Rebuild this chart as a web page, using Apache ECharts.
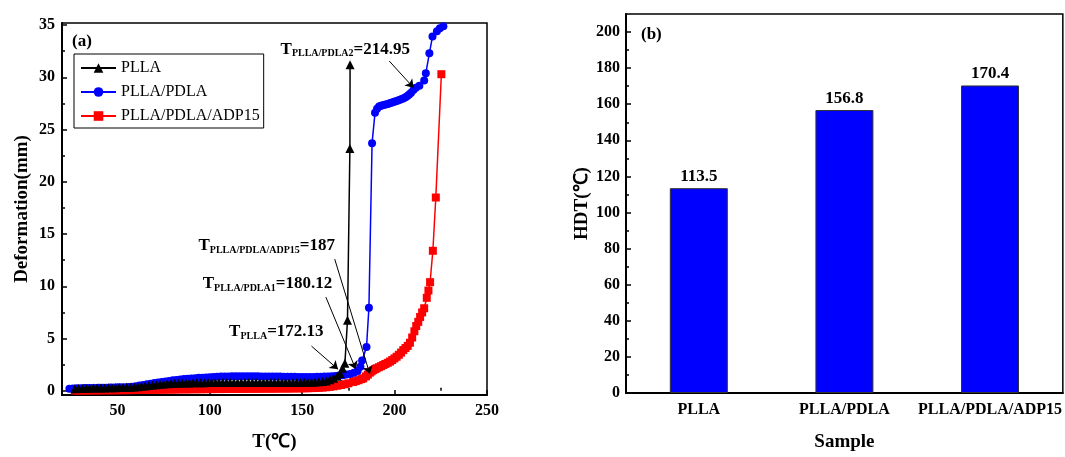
<!DOCTYPE html>
<html>
<head>
<meta charset="utf-8">
<script src="https://cdn.jsdelivr.net/npm/echarts@6/dist/echarts.min.js"></script>
<style>html,body{margin:0;padding:0;background:#fff}#c{width:1065px;height:457px}</style>
</head>
<body>
<div id="c"></div>
<script>
// ---------- data (a) ----------
const seriesNames = ['PLLA', 'PLLA/PDLA', 'PLLA/PDLA/ADP15'];
const pllaData = [
 [27,0.20],[29,0.22],[31,0.23],[33,0.24],[35,0.25],[37,0.26],[39,0.27],[41,0.27],[43,0.28],[45,0.29],
 [47,0.30],[49,0.30],[51,0.31],[53,0.32],[55,0.33],[57,0.35],[59,0.37],[61,0.40],[63,0.43],[65,0.47],
 [67,0.51],[69,0.55],[71,0.59],[73,0.62],[75,0.65],[77,0.68],[79,0.70],[81,0.72],[83,0.73],[85,0.74],
 [87,0.75],[89,0.76],[91,0.77],[93,0.77],[95,0.78],[97,0.78],[99,0.79],[101,0.79],[103,0.80],[105,0.80],
 [107,0.80],[109,0.80],[111,0.80],[113,0.80],[115,0.80],[117,0.80],[119,0.79],[121,0.79],[123,0.79],[125,0.79],
 [127,0.79],[129,0.79],[131,0.79],[133,0.79],[135,0.79],[137,0.79],[139,0.79],[141,0.79],[143,0.80],[145,0.80],
 [147,0.80],[149,0.80],[151,0.81],[153,0.82],[155,0.83],[157,0.84],[159,0.86],[161,0.90],[163,0.95],[165,1.05],
 [167,1.20],[169,1.40],[170.5,1.65],[171.8,2.16],[173.1,2.63],[174.5,6.75],[175.8,23.2],[175.9,31.2]
];
const pdlaData = [
 [24,0.20],[26,0.22],[28,0.24],[30,0.25],[32,0.26],[34,0.27],[36,0.28],[38,0.28],[40,0.29],[42,0.30],
 [44,0.30],[46,0.31],[48,0.32],[50,0.33],[52,0.34],[54,0.35],[56,0.37],[58,0.40],[60,0.44],[62,0.50],
 [64,0.56],[66,0.62],[68,0.68],[70,0.74],[72,0.80],[74,0.85],[76,0.90],[78,0.95],[80,1.00],[82,1.04],
 [84,1.08],[86,1.12],[88,1.15],[90,1.18],[92,1.21],[94,1.24],[96,1.26],[98,1.28],[100,1.30],[102,1.32],
 [104,1.34],[106,1.36],[108,1.37],[110,1.38],[112,1.39],[114,1.40],[116,1.40],[118,1.40],[120,1.40],[122,1.40],
 [124,1.39],[126,1.39],[128,1.38],[130,1.38],[132,1.37],[134,1.37],[136,1.36],[138,1.36],[140,1.35],[142,1.35],
 [144,1.34],[146,1.34],[148,1.33],[150,1.33],[152,1.33],[154,1.33],[156,1.33],[158,1.34],[160,1.35],[162,1.36],
 [164,1.38],[166,1.40],[168,1.43],[170,1.46],[172,1.50],[174,1.55],[176,1.62],[178,1.72],[180,1.90],[181.5,2.30],
 [182.4,2.90],[184.8,4.20],[186.1,7.96],[187.8,23.7],[189.4,26.6],[190.5,27.0],[191.6,27.2],[192.6,27.27],[193.6,27.33],[194.6,27.38],
 [195.7,27.42],[196.7,27.48],[197.7,27.54],[198.7,27.6],[199.7,27.66],[200.7,27.72],[201.8,27.78],[202.9,27.85],[203.9,27.92],[204.9,28.0],
 [205.9,28.1],[206.9,28.22],[207.9,28.36],[208.9,28.52],[210.2,28.8],[211.5,29.0],[213.4,29.2],[216.0,29.7],[216.9,30.4],[218.8,32.3],
 [220.5,33.9],[222.9,34.4],[224.5,34.7],[226.4,34.9]
];
const adpData = [
 [27,0.02],[29,0.02],[31,0.03],[33,0.03],[35,0.03],[37,0.04],[39,0.04],[41,0.04],[43,0.05],[45,0.05],
 [47,0.05],[49,0.05],[51,0.06],[53,0.06],[55,0.06],[57,0.07],[59,0.07],[61,0.08],[63,0.08],[65,0.09],
 [67,0.09],[69,0.10],[71,0.10],[73,0.11],[75,0.11],[77,0.12],[79,0.12],[81,0.13],[83,0.13],[85,0.14],
 [87,0.14],[89,0.14],[91,0.15],[93,0.15],[95,0.15],[97,0.16],[99,0.16],[101,0.16],[103,0.17],[105,0.17],
 [107,0.17],[109,0.18],[111,0.18],[113,0.18],[115,0.19],[117,0.19],[119,0.19],[121,0.20],[123,0.20],[125,0.20],
 [127,0.20],[129,0.21],[131,0.21],[133,0.21],[135,0.21],[137,0.22],[139,0.22],[141,0.22],[143,0.22],[145,0.23],
 [147,0.23],[149,0.24],[151,0.24],[153,0.25],[155,0.26],[157,0.27],[159,0.29],[161,0.31],[163,0.34],[165,0.38],
 [167,0.43],[169,0.49],[171,0.56],[173,0.63],[175,0.72],[177.6,0.85],[179,0.93],[180.5,1.02],[182,1.12],[183,1.20],
 [184.5,1.38],[185.5,1.55],[186.6,1.74],[187.5,1.86],[188.5,1.98],[189.5,2.08],[190.3,2.16],[191.5,2.26],[192.7,2.36],[193.9,2.47],
 [195,2.57],[196.3,2.68],[197.5,2.80],[198.7,2.94],[199.9,3.10],[201.1,3.26],[202.3,3.45],[203.5,3.66],[204.7,3.90],[205.9,4.10],
 [207.1,4.30],[208.3,4.60],[209.5,5.10],[210.7,5.70],[211.7,6.20],[212.8,6.60],[213.8,7.07],[214.9,7.50],[216,7.90],[217.4,8.90],
 [218.3,9.60],[219.2,10.4],[220.7,13.4],[222.3,18.5],[225.3,30.3]
];
const xTicksA = [50, 100, 150, 200, 250];
const xMinorA = [25, 75, 125, 175, 225];
const yTicksA = [0, 5, 10, 15, 20, 25, 30, 35];
const yMinorA = [2.5, 7.5, 12.5, 17.5, 22.5, 27.5, 32.5];
// annotations: [subscript, value]
const annoTexts = [['PLLA','172.13'], ['PLLA/PDLA1','180.12'], ['PLLA/PDLA/ADP15','187'], ['PLLA/PDLA2','214.95']];
const annoAt = [[136.0,5.64],[131.2,10.25],[130.8,13.9],[173.3,32.7]];
const arrowFrom = [[155.0,4.28],[162.8,8.97],[167.6,12.6],[197.1,31.56]];
const arrowTo = [[169.4,2.06],[179.0,2.06],[186.6,1.6],[210.3,29.0]];

// ---------- data (b) ----------
const samples = ['PLLA', 'PLLA/PDLA', 'PLLA/PDLA/ADP15'];
const hdt = [113.5, 156.8, 170.4];
const yTicksB = [0, 20, 40, 60, 80, 100, 120, 140, 160, 180, 200];
const yMinorB = [10, 30, 50, 70, 90, 110, 130, 150, 170, 190];

const FONT = "'Times New Roman','Liberation Serif',serif";
const chart = echarts.init(document.getElementById('c'), null, {renderer: 'canvas'});

function lineSeries(name, data, color, symbol, size, z) {
  return {
    name, type: 'line', data, xAxisIndex: 0, yAxisIndex: 0, z,
    symbol, symbolSize: size, showAllSymbol: true,
    lineStyle: {color, width: 1.5}, itemStyle: {color},
    animation: false
  };
}

const blackSeries = lineSeries('PLLA', pllaData, '#000000', 'triangle', 9, 5);
blackSeries.markLine = {
  silent: true, symbol: ['none', 'arrow'], symbolSize: 8,
  lineStyle: {color: '#000', width: 1, type: 'solid'},
  label: {show: false},
  data: arrowFrom.map((f, i) => [{coord: f}, {coord: arrowTo[i]}])
};
blackSeries.markPoint = {
  silent: true, symbol: 'circle', symbolSize: 1, itemStyle: {color: 'rgba(0,0,0,0)'},
  label: {
    show: true, position: 'inside', color: '#000',
    formatter: p => '{t|T}{s|' + annoTexts[p.dataIndex][0] + '}{t|=' + annoTexts[p.dataIndex][1] + '}',
    rich: {
      t: {fontFamily: FONT, fontWeight: 'bold', fontSize: 17, color: '#000', lineHeight: 19},
      s: {fontFamily: FONT, fontWeight: 'bold', fontSize: 10, color: '#000', verticalAlign: 'bottom', padding: [8, 0, 0, 0]}
    }
  },
  data: annoAt.map(c => ({coord: c}))
};

const axisTxt = {fontFamily: FONT, fontWeight: 'bold', fontSize: 16, color: '#000'};
const nameTxt = {fontFamily: FONT, fontWeight: 'bold', fontSize: 19, color: '#000'};

const option = {
  animation: false,
  backgroundColor: '#fff',
  grid: [
    {left: 62, right: 578, top: 23, bottom: 62, show: true, borderColor: '#000', borderWidth: 1.5, backgroundColor: 'transparent'},
    {left: 626, right: 2, top: 14, bottom: 63, show: true, borderColor: '#000', borderWidth: 1.5, backgroundColor: 'transparent'}
  ],
  legend: {
    data: seriesNames, orient: 'vertical', left: 74, top: 54,
    borderColor: '#000', borderWidth: 1, padding: [5, 4, 3, 6], itemGap: 6,
    itemWidth: 35, itemHeight: 12,
    textStyle: {fontFamily: FONT, fontSize: 16, color: '#000', lineHeight: 18}
  },
  xAxis: [
    {type: 'value', gridIndex: 0, min: 20, max: 250, name: 'T(℃)', nameLocation: 'middle', nameGap: 38, nameTextStyle: nameTxt,
     axisLine: {onZero: false, lineStyle: {color: '#000', width: 2}},
     axisTick: {inside: true, length: 5, customValues: xTicksA, lineStyle: {color: '#000', width: 1.5}},
     axisLabel: {customValues: xTicksA, margin: 8, ...axisTxt}, splitLine: {show: false}},
    {type: 'value', gridIndex: 0, min: 20, max: 250, position: 'bottom',
     axisLine: {show: false}, axisTick: {inside: true, length: 3, customValues: xMinorA, lineStyle: {color: '#000', width: 1.5}},
     axisLabel: {show: false}, splitLine: {show: false}},
    {type: 'category', gridIndex: 1, data: samples, name: 'Sample', nameLocation: 'middle', nameGap: 40, nameTextStyle: nameTxt,
     axisLine: {lineStyle: {color: '#000', width: 2}}, axisTick: {show: false},
     axisLabel: {interval: 0, hideOverlap: false, margin: 9, ...axisTxt}}
  ],
  yAxis: [
    {type: 'value', gridIndex: 0, min: -0.4, max: 35.2, name: 'Deformation(mm)', nameLocation: 'middle', nameGap: 30, nameTextStyle: nameTxt,
     axisLine: {onZero: false, lineStyle: {color: '#000', width: 2}},
     axisTick: {inside: true, length: 5, customValues: yTicksA, lineStyle: {color: '#000', width: 1.5}},
     axisLabel: {customValues: yTicksA, margin: 7, ...axisTxt}, splitLine: {show: false}},
    {type: 'value', gridIndex: 0, min: -0.4, max: 35.2, position: 'left',
     axisLine: {show: false}, axisTick: {inside: true, length: 3, customValues: yMinorA, lineStyle: {color: '#000', width: 1.5}},
     axisLabel: {show: false}, splitLine: {show: false}},
    {type: 'value', gridIndex: 1, min: 0, max: 210, name: 'HDT(℃)', nameLocation: 'middle', nameGap: 34, nameTextStyle: nameTxt,
     axisLine: {show: true, onZero: false, lineStyle: {color: '#000', width: 2}},
     axisTick: {show: true, inside: true, length: 5, customValues: yTicksB, lineStyle: {color: '#000', width: 1.5}},
     axisLabel: {customValues: yTicksB, margin: 6, ...axisTxt}, splitLine: {show: false}},
    {type: 'value', gridIndex: 1, min: 0, max: 210, position: 'left',
     axisLine: {show: false}, axisTick: {show: true, inside: true, length: 3, customValues: yMinorB, lineStyle: {color: '#000', width: 1.5}},
     axisLabel: {show: false}, splitLine: {show: false}}
  ],
  graphic: [
    {type: 'text', left: 72, top: 33, style: {text: '(a)', font: "bold 17px 'Times New Roman','Liberation Serif',serif", fill: '#000'}},
    {type: 'text', left: 641, top: 26, style: {text: '(b)', font: "bold 17px 'Times New Roman','Liberation Serif',serif", fill: '#000'}}
  ],
  series: [
    lineSeries('PLLA/PDLA/ADP15', adpData, '#ff0000', 'rect', 8, 3),
    lineSeries('PLLA/PDLA', pdlaData, '#0000ff', 'circle', 8, 4),
    blackSeries,
    {name: 'HDT', type: 'bar', xAxisIndex: 2, yAxisIndex: 2, data: hdt, barWidth: 58,
     itemStyle: {color: '#0000ff', borderColor: '#333', borderWidth: 1},
     label: {show: true, position: 'top', distance: 3, fontFamily: FONT, fontWeight: 'bold', fontSize: 17, color: '#000'}}
  ]
};
chart.setOption(option);
</script>
</body>
</html>
